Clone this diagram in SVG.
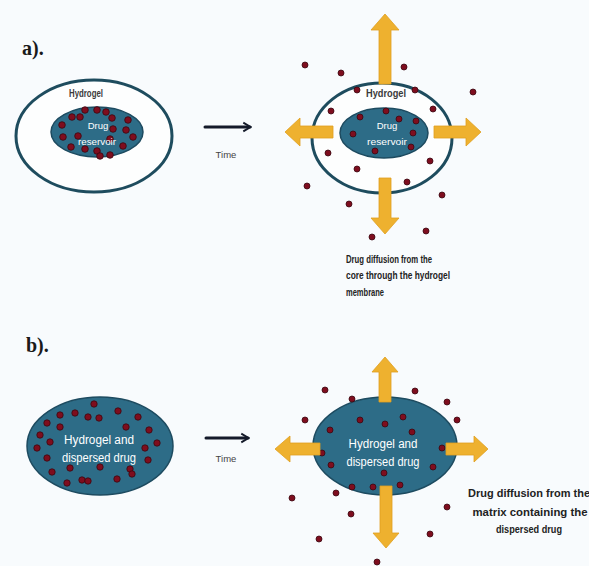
<svg xmlns="http://www.w3.org/2000/svg" width="589" height="566" viewBox="0 0 589 566">
<style>
.bg{fill:#f8fbfd}
.lbl{font-family:"Liberation Serif",serif;font-weight:bold;font-size:20px;fill:#1a1a1a}
.outer{fill:#fdfefe;stroke:#1e4c5e;stroke-width:3}
.core{fill:#2d6c87;stroke:#1d4b60;stroke-width:1.5}
.gel{font-family:"Liberation Sans",Arial,sans-serif;font-weight:bold;font-size:10px;fill:#3a3a3a;text-anchor:middle}
.wt{font-family:"Liberation Sans",Arial,sans-serif;font-size:9.5px;fill:#ffffff;text-anchor:middle}
.wt2{font-family:"Liberation Sans",Arial,sans-serif;font-size:12px;fill:#ffffff;text-anchor:middle}
.time{font-family:"Liberation Sans",Arial,sans-serif;font-size:9.5px;fill:#444;text-anchor:middle}
.cap{font-family:"Liberation Sans",Arial,sans-serif;font-weight:bold;font-size:10px;fill:#222}
.capb{font-family:"Liberation Sans",Arial,sans-serif;font-weight:bold;font-size:11px;fill:#222;text-anchor:middle}
.ya{fill:#eeb12f;stroke:#e0a020;stroke-width:0.8}
.dot{fill:#7e0d1e;stroke:#3a0810;stroke-width:0.8}
.conn{stroke:#141a2a;stroke-width:3;fill:none;stroke-linecap:round}
</style>
<defs>
<marker id="ah" viewBox="0 0 10 10" refX="8" refY="5" markerWidth="3.2" markerHeight="4.2" orient="auto" markerUnits="strokeWidth">
<path d="M1,0.5 L8.5,5 L1,9.5" fill="none" stroke="#141a2a" stroke-width="2"/>
</marker>
</defs>
<rect class="bg" x="0" y="0" width="589" height="566"/>

<text class="lbl" x="22" y="55">a).</text>
<text class="lbl" x="26" y="352">b).</text>

<g id="a-before">
<ellipse class="outer" cx="94" cy="136" rx="78" ry="56"/>
<text class="gel" x="86" y="97" textLength="34" lengthAdjust="spacingAndGlyphs">Hydrogel</text>
<ellipse class="core" cx="97" cy="132" rx="46" ry="25"/>
<g>
<circle class="dot" cx="85" cy="110" r="3.3"/>
<circle class="dot" cx="97" cy="110" r="3.3"/>
<circle class="dot" cx="106" cy="112" r="3.3"/>
<circle class="dot" cx="80" cy="117" r="3.3"/>
<circle class="dot" cx="112" cy="118" r="3.3"/>
<circle class="dot" cx="128" cy="120" r="3.3"/>
<circle class="dot" cx="72" cy="117" r="3.3"/>
<circle class="dot" cx="62" cy="125" r="3.3"/>
<circle class="dot" cx="113" cy="129" r="3.3"/>
<circle class="dot" cx="63" cy="137" r="3.3"/>
<circle class="dot" cx="126" cy="130" r="3.3"/>
<circle class="dot" cx="133" cy="137" r="3.3"/>
<circle class="dot" cx="110" cy="139" r="3.3"/>
<circle class="dot" cx="123" cy="146" r="3.3"/>
<circle class="dot" cx="71" cy="147" r="3.3"/>
<circle class="dot" cx="85" cy="149" r="3.3"/>
<circle class="dot" cx="97" cy="151" r="3.3"/>
<circle class="dot" cx="110" cy="155" r="3.3"/>
<circle class="dot" cx="100" cy="156" r="3.3"/>
<circle class="dot" cx="78" cy="136" r="3.3"/>
</g>
<text class="wt" x="98" y="129">Drug</text>
<text class="wt" x="97" y="145" textLength="38" lengthAdjust="spacingAndGlyphs">reservoir</text>
</g>

<g id="a-after">
<ellipse class="outer" cx="382" cy="138" rx="70" ry="55"/>
<text class="gel" x="386" y="97" textLength="40" lengthAdjust="spacingAndGlyphs">Hydrogel</text>
<ellipse class="core" cx="384" cy="133" rx="44" ry="25"/>
<text class="wt" x="387" y="129">Drug</text>
<text class="wt" x="387" y="145" textLength="40" lengthAdjust="spacingAndGlyphs">reservoir</text>
<path class="ya" d="M379,84 L379,30 L371,30 L385,14 L399,30 L391,30 L391,84 Z"/>
<path class="ya" d="M379,178 L379,218 L371,218 L385,234 L399,218 L391,218 L391,178 Z"/>
<path class="ya" d="M333,126 L300,126 L300,118 L285,132 L300,146 L300,138 L333,138 Z"/>
<path class="ya" d="M434,126 L466,126 L466,118 L481,132 L466,146 L466,138 L434,138 Z"/>
<g>
<circle class="dot" cx="305" cy="65" r="3"/>
<circle class="dot" cx="341" cy="73" r="3"/>
<circle class="dot" cx="404" cy="67" r="3"/>
<circle class="dot" cx="473" cy="92" r="3"/>
<circle class="dot" cx="357" cy="90" r="3"/>
<circle class="dot" cx="415" cy="90" r="3"/>
<circle class="dot" cx="331" cy="111" r="3"/>
<circle class="dot" cx="433" cy="109" r="3"/>
<circle class="dot" cx="386" cy="111" r="3"/>
<circle class="dot" cx="360" cy="117" r="3"/>
<circle class="dot" cx="399" cy="119" r="3"/>
<circle class="dot" cx="416" cy="121" r="3"/>
<circle class="dot" cx="353" cy="134" r="3"/>
<circle class="dot" cx="413" cy="133" r="3"/>
<circle class="dot" cx="328" cy="153" r="3"/>
<circle class="dot" cx="375" cy="151" r="3"/>
<circle class="dot" cx="411" cy="147" r="3"/>
<circle class="dot" cx="430" cy="161" r="3"/>
<circle class="dot" cx="357" cy="169" r="3"/>
<circle class="dot" cx="307" cy="186" r="3"/>
<circle class="dot" cx="407" cy="182" r="3"/>
<circle class="dot" cx="442" cy="195" r="3"/>
<circle class="dot" cx="349" cy="204" r="3"/>
<circle class="dot" cx="426" cy="231" r="3"/>
<circle class="dot" cx="372" cy="237" r="3"/>
</g>
<text class="cap" x="346" y="263" textLength="86" lengthAdjust="spacingAndGlyphs">Drug diffusion from the</text>
<text class="cap" x="346" y="279" textLength="104" lengthAdjust="spacingAndGlyphs">core through the hydrogel</text>
<text class="cap" x="346" y="296" textLength="38" lengthAdjust="spacingAndGlyphs">membrane</text>
</g>

<g id="b-before">
<ellipse class="core" cx="100" cy="446" rx="73" ry="49"/>
<g>
<circle class="dot" cx="94" cy="404" r="3.2"/>
<circle class="dot" cx="60" cy="415" r="3.2"/>
<circle class="dot" cx="75" cy="413" r="3.2"/>
<circle class="dot" cx="88" cy="417" r="3.2"/>
<circle class="dot" cx="99" cy="418" r="3.2"/>
<circle class="dot" cx="118" cy="411" r="3.2"/>
<circle class="dot" cx="138" cy="417" r="3.2"/>
<circle class="dot" cx="47" cy="423" r="3.2"/>
<circle class="dot" cx="60" cy="427" r="3.2"/>
<circle class="dot" cx="126" cy="427" r="3.2"/>
<circle class="dot" cx="149" cy="430" r="3.2"/>
<circle class="dot" cx="40" cy="435" r="3.2"/>
<circle class="dot" cx="50" cy="442" r="3.2"/>
<circle class="dot" cx="157" cy="443" r="3.2"/>
<circle class="dot" cx="145" cy="448" r="3.2"/>
<circle class="dot" cx="37" cy="448" r="3.2"/>
<circle class="dot" cx="148" cy="460" r="3.2"/>
<circle class="dot" cx="47" cy="458" r="3.2"/>
<circle class="dot" cx="70" cy="468" r="3.2"/>
<circle class="dot" cx="100" cy="467" r="3.2"/>
<circle class="dot" cx="130" cy="469" r="3.2"/>
<circle class="dot" cx="52" cy="472" r="3.2"/>
<circle class="dot" cx="82" cy="480" r="3.2"/>
<circle class="dot" cx="88" cy="481" r="3.2"/>
<circle class="dot" cx="67" cy="483" r="3.2"/>
<circle class="dot" cx="117" cy="479" r="3.2"/>
<circle class="dot" cx="132" cy="474" r="3.2"/>
</g>
<text class="wt2" x="99" y="444" textLength="70" lengthAdjust="spacingAndGlyphs">Hydrogel and</text>
<text class="wt2" x="99" y="462" textLength="74" lengthAdjust="spacingAndGlyphs">dispersed drug</text>
</g>

<g id="b-after">
<ellipse class="core" cx="385" cy="446" rx="72" ry="49"/>
<g>
<circle class="dot" cx="325" cy="390" r="3"/>
<circle class="dot" cx="352" cy="399" r="3"/>
<circle class="dot" cx="415" cy="391" r="3"/>
<circle class="dot" cx="447" cy="402" r="3"/>
<circle class="dot" cx="305" cy="420" r="3"/>
<circle class="dot" cx="457" cy="420" r="3"/>
<circle class="dot" cx="360" cy="420" r="3"/>
<circle class="dot" cx="385" cy="424" r="3"/>
<circle class="dot" cx="403" cy="417" r="3"/>
<circle class="dot" cx="330" cy="430" r="3"/>
<circle class="dot" cx="412" cy="432" r="3"/>
<circle class="dot" cx="322" cy="453" r="3"/>
<circle class="dot" cx="442" cy="448" r="3"/>
<circle class="dot" cx="331" cy="465" r="3"/>
<circle class="dot" cx="433" cy="467" r="3"/>
<circle class="dot" cx="384" cy="473" r="3"/>
<circle class="dot" cx="352" cy="487" r="3"/>
<circle class="dot" cx="373" cy="487" r="3"/>
<circle class="dot" cx="400" cy="485" r="3"/>
<circle class="dot" cx="336" cy="493" r="3"/>
<circle class="dot" cx="292" cy="498" r="3"/>
<circle class="dot" cx="447" cy="507" r="3"/>
<circle class="dot" cx="351" cy="514" r="3"/>
<circle class="dot" cx="430" cy="534" r="3"/>
<circle class="dot" cx="319" cy="539" r="3"/>
<circle class="dot" cx="377" cy="562" r="3"/>
</g>
<path class="ya" d="M379,402 L379,372 L372,372 L385,357 L398,372 L391,372 L391,402 Z"/>
<path class="ya" d="M380,486 L380,533 L373,533 L386,548 L399,533 L392,533 L392,486 Z"/>
<path class="ya" d="M320,443 L290,443 L290,436 L275,449 L290,462 L290,455 L320,455 Z"/>
<path class="ya" d="M446,443 L474,443 L474,436 L488,449 L474,462 L474,455 L446,455 Z"/>
<text class="wt2" x="383" y="448" textLength="69" lengthAdjust="spacingAndGlyphs">Hydrogel and</text>
<text class="wt2" x="383" y="466" textLength="73" lengthAdjust="spacingAndGlyphs">dispersed drug</text>
<text class="capb" x="529" y="497" textLength="122" lengthAdjust="spacingAndGlyphs">Drug diffusion from the</text>
<text class="capb" x="530" y="516" textLength="115" lengthAdjust="spacingAndGlyphs">matrix containing the</text>
<text class="capb" x="529" y="533" textLength="66" lengthAdjust="spacingAndGlyphs">dispersed drug</text>
</g>

<g id="connectors">
<line class="conn" x1="205" y1="127" x2="250" y2="127" marker-end="url(#ah)"/>
<text class="time" x="226" y="158">Time</text>
<line class="conn" x1="206" y1="438" x2="248" y2="438" marker-end="url(#ah)"/>
<text class="time" x="226" y="462" font-size="8">Time</text>
</g>
</svg>
